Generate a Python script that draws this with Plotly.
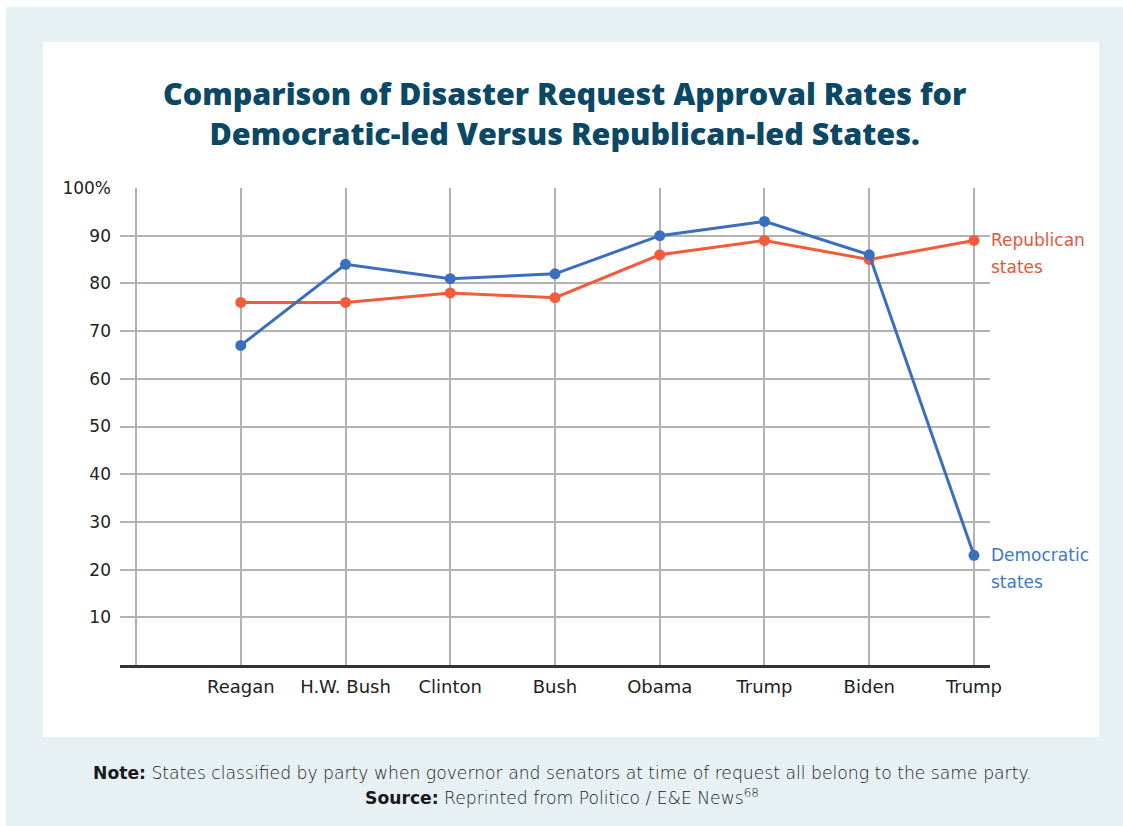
import plotly.graph_objects as go

# ---- data ----
presidents = ["Reagan", "H.W. Bush", "Clinton", "Bush", "Obama", "Trump", "Biden", "Trump"]
democratic = [67, 84, 81, 82, 90, 93, 86, 23]
republican = [76, 76, 78, 77, 86, 89, 85, 89]
y_ticks = [10, 20, 30, 40, 50, 60, 70, 80, 90, 100]
y_tick_labels = ["10", "20", "30", "40", "50", "60", "70", "80", "90", "100%"]

W, H = 1123, 826
ML, MR, MT, MB = 120, 133, 188, 161
PW, PH = W - ML - MR, H - MT - MB


def px2x(px):
    return (px - ML) / PW


def px2y(py):
    return (H - MB - py) / PH


positions = list(range(1, len(presidents) + 1))

RED = "#f25c3b"
BLUE = "#3a6fbf"
GRID = "#b3b3b3"

fig = go.Figure()
fig.add_trace(go.Scatter(
    x=positions, y=republican, mode="lines+markers",
    line=dict(color=RED, width=3), marker=dict(color=RED, size=11),
    name="Republican states", showlegend=False, cliponaxis=False))
fig.add_trace(go.Scatter(
    x=positions, y=democratic, mode="lines+markers",
    line=dict(color=BLUE, width=3), marker=dict(color=BLUE, size=11),
    name="Democratic states", showlegend=False, cliponaxis=False))

shapes = [
    dict(type="rect", xref="paper", yref="paper", layer="below",
         x0=px2x(6), x1=px2x(W + 5), y0=px2y(7), y1=px2y(H + 5),
         fillcolor="#e7f0f3", line=dict(width=0)),
    dict(type="rect", xref="paper", yref="paper", layer="below",
         x0=px2x(43), x1=px2x(1099), y0=px2y(42), y1=px2y(737),
         fillcolor="#ffffff", line=dict(width=0)),
]

TITLE_COLOR = "#0b4866"
TITLE_FONT = dict(family="Open Sans", size=30.5, color=TITLE_COLOR, weight=800)
FOOT_FONT = dict(family="DejaVu Sans", size=17.2, color="#1a1a1a", weight=300)
annotations = [
    dict(text="Comparison of Disaster Request Approval Rates for<br>Democratic-led Versus Republican-led States.",
         xref="paper", yref="paper", x=px2x(564), y=px2y(113),
         xanchor="center", yanchor="middle", showarrow=False, font=TITLE_FONT),
    dict(text="Republican", xref="paper", yref="y", x=px2x(989), y=republican[-1],
         xanchor="left", yanchor="middle", showarrow=False,
         font=dict(family="DejaVu Sans", size=17, color="#e2583c")),
    dict(text="states", xref="paper", yref="paper", x=px2x(989), y=px2y(267),
         xanchor="left", yanchor="middle", showarrow=False,
         font=dict(family="DejaVu Sans", size=17, color="#e2583c")),
    dict(text="Democratic", xref="paper", yref="y", x=px2x(989), y=democratic[-1],
         xanchor="left", yanchor="middle", showarrow=False,
         font=dict(family="DejaVu Sans", size=17, color="#4277c2")),
    dict(text="states", xref="paper", yref="paper", x=px2x(989), y=px2y(582),
         xanchor="left", yanchor="middle", showarrow=False,
         font=dict(family="DejaVu Sans", size=17, color="#4277c2")),
    dict(text="<b>Note:</b> States classified by party when governor and senators at time of request all belong to the same party.",
         xref="paper", yref="paper", x=px2x(562), y=px2y(773),
         xanchor="center", yanchor="middle", showarrow=False, font=FOOT_FONT),
    dict(text="<b>Source:</b> Reprinted from Politico / E&E News<sup>68</sup>",
         xref="paper", yref="paper", x=px2x(562), y=px2y(797),
         xanchor="center", yanchor="middle", showarrow=False, font=FOOT_FONT),
]

fig.update_layout(
    width=W, height=H,
    margin=dict(l=ML, r=MR, t=MT, b=MB, pad=0),
    paper_bgcolor="#ffffff", plot_bgcolor="rgba(0,0,0,0)",
    shapes=shapes, annotations=annotations,
    xaxis=dict(range=[-0.153, 8.153], tickmode="array",
               tickvals=positions, ticktext=presidents,
               showgrid=True, gridcolor=GRID, gridwidth=1.5,
               minor=dict(tickmode="array", tickvals=[0], showgrid=True,
                          gridcolor=GRID, gridwidth=1.5, ticks=""),
               zeroline=False, showline=True, linecolor="#333333", linewidth=2.5,
               ticks="", ticklabelstandoff=4,
               tickfont=dict(family="DejaVu Sans", size=18, color="#222222"),
               fixedrange=True),
    yaxis=dict(range=[0, 100], tickmode="array", tickvals=y_ticks, ticktext=y_tick_labels,
               showgrid=True, gridcolor=GRID, gridwidth=1.5,
               zeroline=False, showline=False, ticks="", ticklabelstandoff=8,
               tickfont=dict(family="DejaVu Sans", size=17, color="#222222"),
               fixedrange=True),
    hovermode=False,
)

fig.write_html("out.html")
